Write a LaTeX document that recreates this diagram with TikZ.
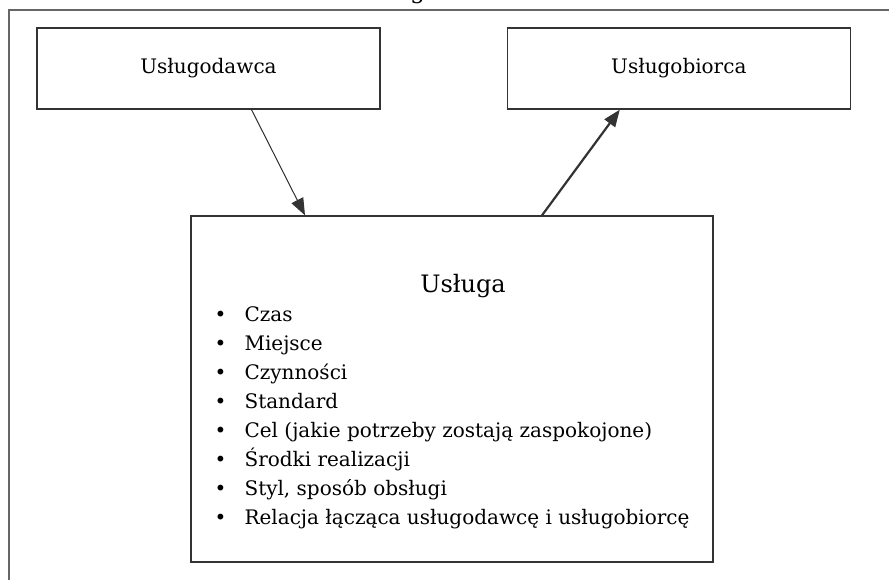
\documentclass[tikz,border=0pt]{standalone}
\usepackage{fontspec}
\setmainfont{DejaVu Serif}
\usetikzlibrary{arrows.meta,calc,positioning}

\definecolor{linec}{HTML}{333333}
\definecolor{framec}{HTML}{666666}

\begin{document}
\begin{tikzpicture}[
  x=1pt, y=-1pt,
  font=\fontsize{20}{24}\selectfont,
  box/.style={draw=linec, line width=1.3pt, fill=white, align=center},
  item/.style={inner sep=0pt, anchor=base west},
  arr/.style={-{Triangle[length=17pt, width=13pt]}, line width=1pt, draw=linec, fill=linec},
  thickarr/.style={arr, line width=2.2pt}
]
\useasboundingbox (0,0) rectangle (889,579);

% outer frame, cut off at the page edge
\draw[draw=framec, line width=1.3pt] (9,10) rectangle (900,600);
\node[font=\fontsize{24}{28}\selectfont, anchor=base, inner sep=0pt] (tytul) at (397,-2) {Usługa};

\node[box, minimum width=343pt, minimum height=81pt] (dawca) at (208.5,68.5) {Usługodawca};
\node[box, minimum width=343pt, minimum height=81pt, right=126pt of dawca] (biorca) {Usługobiorca};
\node[box, minimum width=522pt, minimum height=346pt] (usluga) at (452,389) {};

\node[font=\fontsize{24}{28}\selectfont, anchor=base, inner sep=0pt] (nazwa) at ([xshift=11pt, yshift=-77pt]usluga.north) {Usługa};

\foreach \t [count=\i] in {Czas, Miejsce, Czynności, Standard,
    Cel (jakie potrzeby zostają zaspokojone), Środki realizacji,
    {Styl, sposób obsługi}, Relacja łącząca usługodawcę i usługobiorcę}
  \node[item] (pkt\i) at ($(usluga.north west)+(24,{106+29*(\i-1)})$) {\makebox[30pt][l]{•}\t};

\draw[arr] ([xshift=43pt]dawca.south) -- ([xshift=-147pt]usluga.north);
\draw[thickarr] ([xshift=90pt]usluga.north) -- ([xshift=-59pt]biorca.south);
\end{tikzpicture}
\end{document}
